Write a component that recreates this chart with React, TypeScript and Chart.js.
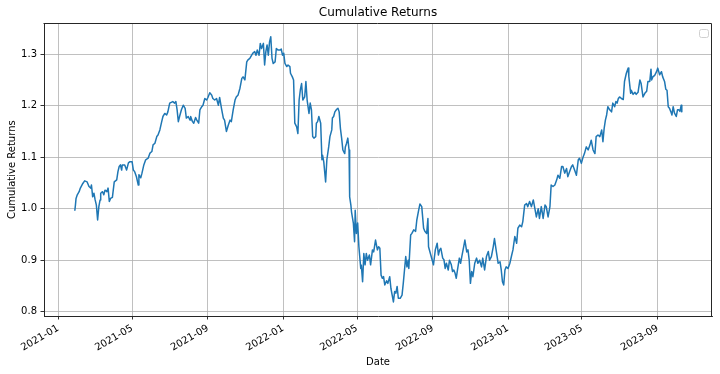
import React, { useEffect, useRef } from "react";
import { Chart, registerables } from "chart.js";

Chart.register(...registerables);

const dates2021 = [
  "2021-01-28","2021-01-29","2021-01-30","2021-02-01","2021-02-04","2021-02-06","2021-02-10","2021-02-13","2021-02-17","2021-02-20",
  "2021-02-23","2021-02-24","2021-02-26","2021-02-28","2021-03-02","2021-03-04","2021-03-06","2021-03-08","2021-03-10","2021-03-11",
  "2021-03-14","2021-03-16","2021-03-18","2021-03-21","2021-03-23","2021-03-25","2021-03-27","2021-03-30","2021-04-02","2021-04-06",
  "2021-04-08","2021-04-10","2021-04-12","2021-04-14","2021-04-15","2021-04-19","2021-04-22","2021-04-25","2021-04-27","2021-05-01",
  "2021-05-03","2021-05-05","2021-05-08","2021-05-11","2021-05-12","2021-05-15","2021-05-17","2021-05-20","2021-05-23","2021-05-27",
  "2021-05-30","2021-06-02","2021-06-04","2021-06-07","2021-06-10","2021-06-12","2021-06-15","2021-06-18","2021-06-20","2021-06-23",
  "2021-06-26","2021-06-28","2021-07-01","2021-07-06","2021-07-09","2021-07-11","2021-07-13","2021-07-15","2021-07-17","2021-07-20",
  "2021-07-23","2021-07-26","2021-07-28","2021-07-31","2021-08-03","2021-08-04","2021-08-07","2021-08-09","2021-08-12","2021-08-14",
  "2021-08-17","2021-08-19","2021-08-22","2021-08-24","2021-08-27","2021-08-30","2021-09-01","2021-09-04","2021-09-07","2021-09-09",
  "2021-09-12","2021-09-15","2021-09-18","2021-09-20","2021-09-23","2021-09-26","2021-09-28","2021-10-01","2021-10-04","2021-10-07",
  "2021-10-09","2021-10-12","2021-10-15","2021-10-17","2021-10-20","2021-10-23","2021-10-26","2021-10-28","2021-10-31","2021-11-03",
  "2021-11-05","2021-11-08","2021-11-11","2021-11-13","2021-11-16","2021-11-18","2021-11-20","2021-11-23","2021-11-25","2021-11-27",
  "2021-11-30","2021-12-02","2021-12-04","2021-12-06","2021-12-08","2021-12-10","2021-12-12","2021-12-14","2021-12-16","2021-12-19",
  "2021-12-21","2021-12-24","2021-12-27","2021-12-29","2021-12-31",
];
const returns2021 = [
  0.996,1.007,1.020,1.027,1.033,1.040,1.049,1.054,1.052,1.043,
  1.040,1.046,1.023,1.030,1.017,1.007,0.978,1.004,1.017,1.030,
  1.033,1.027,1.036,1.033,1.040,1.014,1.020,1.022,1.052,1.056,
  1.072,1.082,1.085,1.075,1.085,1.085,1.075,1.089,1.091,1.091,
  1.075,1.072,1.062,1.046,1.066,1.060,1.069,1.085,1.095,1.098,
  1.108,1.111,1.124,1.127,1.140,1.143,1.153,1.169,1.179,1.185,
  1.182,1.188,1.205,1.208,1.205,1.208,1.192,1.169,1.179,1.192,
  1.201,1.195,1.176,1.179,1.172,1.179,1.169,1.166,1.177,1.172,
  1.166,1.192,1.198,1.201,1.214,1.211,1.216,1.225,1.221,1.214,
  1.211,1.214,1.201,1.216,1.195,1.176,1.172,1.150,1.162,1.172,
  1.169,1.192,1.211,1.217,1.221,1.234,1.253,1.256,1.250,1.285,
  1.289,1.292,1.298,1.302,1.305,1.298,1.308,1.298,1.321,1.311,
  1.321,1.279,1.305,1.318,1.298,1.324,1.334,1.292,1.282,1.285,
  1.311,1.308,1.308,1.310,1.298,
];

const dates2022 = [
  "2022-01-02","2022-01-04","2022-01-07","2022-01-09","2022-01-12","2022-01-13","2022-01-16","2022-01-18","2022-01-20","2022-01-23",
  "2022-01-25","2022-01-27","2022-01-29","2022-01-31","2022-02-02","2022-02-05","2022-02-07","2022-02-09","2022-02-12","2022-02-14",
  "2022-02-16","2022-02-18","2022-02-20","2022-02-23","2022-02-24","2022-02-26","2022-02-28","2022-03-03","2022-03-05","2022-03-06",
  "2022-03-08","2022-03-11","2022-03-13","2022-03-16","2022-03-18","2022-03-21","2022-03-22","2022-03-24","2022-03-26","2022-03-29",
  "2022-03-31","2022-04-02","2022-04-04","2022-04-06","2022-04-08","2022-04-11","2022-04-12","2022-04-14","2022-04-16","2022-04-18",
  "2022-04-19","2022-04-21","2022-04-22","2022-04-25","2022-04-27","2022-04-28","2022-04-30","2022-05-02","2022-05-04","2022-05-07",
  "2022-05-08","2022-05-10","2022-05-12","2022-05-14","2022-05-16","2022-05-18","2022-05-21","2022-05-23","2022-05-26","2022-05-28",
  "2022-05-31","2022-06-03","2022-06-05","2022-06-07","2022-06-09","2022-06-11","2022-06-13","2022-06-15","2022-06-18","2022-06-20",
  "2022-06-23","2022-06-25","2022-06-27","2022-06-29","2022-07-01","2022-07-03","2022-07-05","2022-07-07","2022-07-10","2022-07-13",
  "2022-07-15","2022-07-17","2022-07-19","2022-07-21","2022-07-23","2022-07-24","2022-07-27","2022-07-29","2022-08-01","2022-08-04",
  "2022-08-06","2022-08-09","2022-08-11","2022-08-14","2022-08-15","2022-08-17","2022-08-19","2022-08-22","2022-08-24","2022-08-25",
  "2022-08-28","2022-08-31","2022-09-02","2022-09-05","2022-09-08","2022-09-10","2022-09-12","2022-09-14","2022-09-17","2022-09-19",
  "2022-09-21","2022-09-23","2022-09-26","2022-09-28","2022-10-01","2022-10-03","2022-10-05","2022-10-07","2022-10-09","2022-10-11",
  "2022-10-14","2022-10-16","2022-10-18","2022-10-21","2022-10-23","2022-10-26","2022-10-28","2022-10-30","2022-11-01","2022-11-03",
  "2022-11-05","2022-11-08","2022-11-11","2022-11-13","2022-11-16","2022-11-19","2022-11-21","2022-11-24","2022-11-27","2022-11-30",
  "2022-12-02","2022-12-05","2022-12-08","2022-12-10","2022-12-13","2022-12-16","2022-12-19","2022-12-21","2022-12-23","2022-12-25",
  "2022-12-27","2022-12-29",
];
const returns2022 = [
  1.302,1.282,1.276,1.279,1.276,1.263,1.256,1.250,1.166,1.159,
  1.146,1.211,1.231,1.243,1.211,1.217,1.247,1.211,1.185,1.205,
  1.192,1.140,1.137,1.140,1.166,1.169,1.179,1.166,1.095,1.104,
  1.091,1.052,1.095,1.120,1.140,1.153,1.176,1.179,1.188,1.193,
  1.195,1.188,1.156,1.137,1.114,1.107,1.120,1.127,1.137,1.114,
  1.023,1.007,0.994,0.972,0.936,0.997,0.952,0.972,0.926,0.884,
  0.890,0.858,0.913,0.891,0.913,0.900,0.910,0.891,0.920,0.916,
  0.939,0.920,0.926,0.923,0.871,0.865,0.868,0.852,0.860,0.855,
  0.868,0.845,0.832,0.819,0.839,0.836,0.849,0.826,0.826,0.832,
  0.855,0.881,0.907,0.887,0.900,0.884,0.949,0.952,0.959,0.956,
  0.978,0.997,1.009,1.004,0.990,0.962,0.956,0.952,0.981,0.926,
  0.913,0.900,0.891,0.920,0.933,0.910,0.920,0.923,0.904,0.901,
  0.884,0.894,0.881,0.900,0.891,0.878,0.881,0.875,0.865,0.881,
  0.904,0.894,0.907,0.926,0.939,0.916,0.920,0.900,0.855,0.878,
  0.868,0.894,0.904,0.894,0.900,0.887,0.904,0.881,0.907,0.917,
  0.900,0.907,0.926,0.942,0.917,0.894,0.897,0.881,0.858,0.852,
  0.881,0.887,
];

const dates2023 = [
  "2023-01-01","2023-01-04","2023-01-07","2023-01-09","2023-01-12","2023-01-15","2023-01-17","2023-01-20","2023-01-23","2023-01-25",
  "2023-01-28","2023-01-31","2023-02-02","2023-02-05","2023-02-08","2023-02-11","2023-02-13","2023-02-16","2023-02-19","2023-02-21",
  "2023-02-24","2023-02-27","2023-03-02","2023-03-04","2023-03-07","2023-03-10","2023-03-12","2023-03-15","2023-03-18","2023-03-21",
  "2023-03-23","2023-03-26","2023-03-29","2023-03-31","2023-04-03","2023-04-06","2023-04-08","2023-04-11","2023-04-14","2023-04-16",
  "2023-04-19","2023-04-22","2023-04-25","2023-04-27","2023-04-30","2023-05-03","2023-05-05","2023-05-08","2023-05-11","2023-05-14",
  "2023-05-16","2023-05-19","2023-05-22","2023-05-24","2023-05-27","2023-05-30","2023-06-02","2023-06-04","2023-06-06","2023-06-08",
  "2023-06-10","2023-06-12","2023-06-15","2023-06-18","2023-06-20","2023-06-23","2023-06-25","2023-06-27","2023-06-29","2023-07-01",
  "2023-07-04","2023-07-07","2023-07-09","2023-07-12","2023-07-15","2023-07-16","2023-07-19","2023-07-20","2023-07-23","2023-07-26",
  "2023-07-28","2023-07-31","2023-08-03","2023-08-05","2023-08-08","2023-08-11","2023-08-14","2023-08-16","2023-08-19","2023-08-21",
  "2023-08-22","2023-08-24","2023-08-27","2023-08-30","2023-09-01","2023-09-04","2023-09-07","2023-09-09","2023-09-12","2023-09-14",
  "2023-09-16","2023-09-18","2023-09-20","2023-09-22","2023-09-24","2023-09-26","2023-09-28","2023-10-01","2023-10-03","2023-10-05",
  "2023-10-07","2023-10-09","2023-10-10",
];
const returns2023 = [
  0.884,0.894,0.910,0.920,0.946,0.933,0.962,0.968,0.965,0.975,
  1.007,1.010,1.004,1.014,1.004,1.017,1.004,0.984,1.000,0.981,
  1.004,0.981,1.007,1.004,0.984,1.004,1.046,1.043,1.046,1.056,
  1.065,1.059,1.082,1.082,1.069,1.078,1.062,1.072,1.082,1.085,
  1.075,1.065,1.095,1.098,1.088,1.101,1.107,1.120,1.114,1.124,
  1.133,1.114,1.107,1.140,1.143,1.140,1.153,1.130,1.156,1.172,
  1.182,1.198,1.192,1.188,1.205,1.198,1.208,1.205,1.214,1.217,
  1.214,1.212,1.247,1.263,1.273,1.257,1.224,1.230,1.222,1.226,
  1.222,1.226,1.250,1.243,1.217,1.224,1.228,1.247,1.247,1.271,
  1.250,1.256,1.259,1.266,1.273,1.260,1.266,1.256,1.247,1.232,
  1.230,1.198,1.195,1.189,1.182,1.198,1.186,1.179,1.192,1.192,
  1.189,1.201,1.188,
];

const xTickDates = ["2021-01-01","2021-05-01","2021-09-01","2022-01-01","2022-05-01","2022-09-01","2023-01-01","2023-05-01","2023-09-01"];
const xTickLabels = ["2021-01","2021-05","2021-09","2022-01","2022-05","2022-09","2023-01","2023-05","2023-09"];
const yTickValues = [0.8, 0.9, 1.0, 1.1, 1.2, 1.3];
const xRange = ["2020-12-09", "2023-11-28"];
const yRange = [0.7916, 1.36];

const FONT = "'DejaVu Sans', sans-serif";

export default function App() {
  const ref = useRef<HTMLCanvasElement | null>(null);

  useEffect(() => {
    if (!ref.current) return;
    const dates = [...dates2021, ...dates2022, ...dates2023];
    const values = [...returns2021, ...returns2022, ...returns2023];
    const points = dates.map((d, i) => ({ x: Date.parse(d), y: values[i] }));

    const framePlugin = {
      id: "frameAndLegend",
      afterDraw(chart: any) {
        const { ctx, chartArea: a } = chart;
        ctx.save();
        ctx.strokeStyle = "#262626";
        ctx.lineWidth = 1;
        ctx.beginPath();
        ctx.moveTo(Math.round(a.left) - 0.5, Math.round(a.top) + 0.5);
        ctx.lineTo(Math.round(a.right) - 0.5, Math.round(a.top) + 0.5);
        ctx.lineTo(Math.round(a.right) - 0.5, Math.round(a.bottom));
        ctx.stroke();
        // empty legend frame
        const lx = 699.5, ly = 29.5, lw = 9, lh = 8, r = 2;
        ctx.fillStyle = "rgba(255,255,255,0.8)";
        ctx.strokeStyle = "#d0d0d0";
        ctx.beginPath();
        ctx.moveTo(lx + r, ly);
        ctx.lineTo(lx + lw - r, ly);
        ctx.quadraticCurveTo(lx + lw, ly, lx + lw, ly + r);
        ctx.lineTo(lx + lw, ly + lh - r);
        ctx.quadraticCurveTo(lx + lw, ly + lh, lx + lw - r, ly + lh);
        ctx.lineTo(lx + r, ly + lh);
        ctx.quadraticCurveTo(lx, ly + lh, lx, ly + lh - r);
        ctx.lineTo(lx, ly + r);
        ctx.quadraticCurveTo(lx, ly, lx + r, ly);
        ctx.closePath();
        ctx.fill();
        ctx.stroke();
        ctx.restore();
      },
    };

    const chart = new Chart(ref.current, {
      type: "line",
      data: {
        datasets: [
          {
            data: points,
            borderColor: "#1f77b4",
            borderWidth: 1.5,
            pointRadius: 0,
            tension: 0,
            fill: false,
            borderJoinStyle: "round",
          } as any,
        ],
      },
      options: {
        animation: false,
        responsive: false,
        devicePixelRatio: 1,
        parsing: false,
        layout: { padding: { left: 0, right: 8, top: 0, bottom: 0 } },
        plugins: {
          legend: { display: false },
          tooltip: { enabled: false },
          title: {
            display: true,
            fullSize: false,
            text: "Cumulative Returns",
            color: "#000",
            font: { family: FONT, size: 12, weight: "normal" },
            padding: { top: 5.6, bottom: 3.3 },
          },
        },
        scales: {
          x: {
            type: "linear",
            min: Date.parse(xRange[0]),
            max: Date.parse(xRange[1]),
            afterFit: (s: any) => {
              s.height = 58;
            },
            afterBuildTicks: (s: any) => {
              s.ticks = xTickDates.map((d) => ({ value: Date.parse(d) }));
            },
            ticks: {
              autoSkip: false,
              maxRotation: 30,
              minRotation: 30,
              padding: 3,
              color: "#000",
              font: { family: FONT, size: 10 },
              callback: (_v: any, i: number) => xTickLabels[i],
            },
            grid: { color: "#b0b0b0", lineWidth: 0.8, tickLength: 3.5, tickColor: "#000", drawTicks: true },
            border: { display: true, color: "#262626", width: 1 },
            title: {
              display: true,
              text: "Date",
              color: "#000",
              font: { family: FONT, size: 10 },
              padding: { top: 0, bottom: 6 },
            },
          },
          y: {
            type: "linear",
            min: yRange[0],
            max: yRange[1],
            afterFit: (s: any) => {
              s.width = 44;
            },
            afterBuildTicks: (s: any) => {
              s.ticks = yTickValues.map((v) => ({ value: v }));
            },
            ticks: {
              padding: 3.5,
              color: "#000",
              font: { family: FONT, size: 10 },
              callback: (v: any) => Number(v).toFixed(1),
            },
            grid: { color: "#b0b0b0", lineWidth: 0.8, tickLength: 3.5, tickColor: "#000", drawTicks: true },
            border: { display: true, color: "#262626", width: 1 },
            title: {
              display: true,
              text: "Cumulative Returns",
              color: "#000",
              font: { family: FONT, size: 10 },
              padding: { top: 6, bottom: 0 },
            },
          },
        },
      } as any,
      plugins: [framePlugin],
    });

    return () => chart.destroy();
  }, []);

  return (
    <div style={{ position: "fixed", left: 0, top: 0, width: 720, height: 374, background: "#fff" }}>
      <canvas ref={ref} width={720} height={374} style={{ width: 720, height: 374, display: "block" }} />
    </div>
  );
}
